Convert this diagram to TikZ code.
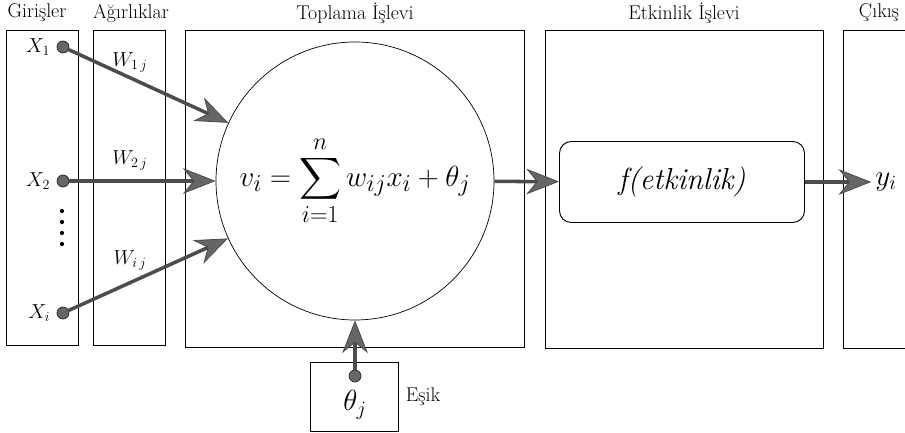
\documentclass[tikz,border=0pt]{standalone}
\usepackage{amsmath}
\usepackage{fontspec}
\usetikzlibrary{arrows.meta,positioning}

\begin{document}
\begin{tikzpicture}[x=0.03cm,y=-0.03cm,
  box/.style={draw,line width=0.8pt},
  head/.style={font=\fontsize{17}{19}\selectfont},
  lab/.style={font=\fontsize{18}{21}\selectfont},
  pin/.style={circle,draw=black!85,fill=black!60,line width=0.6pt,inner sep=0pt,minimum size=0.36cm},
  arr/.style={draw=black!70,line width=3pt,
    -{Stealth[length=28pt,width=22pt,inset=9pt,line width=0.7pt,fill=black!60]}}]
\useasboundingbox (0,0) rectangle (905,433);
% kutular
\draw[box] (6,30) rectangle (78,345);
\draw[box] (93,30) rectangle (165,345);
\draw[box] (185,30) rectangle (524,347);
\draw[box] (545,30) rectangle (823,348);
\draw[box] (843,30) rectangle (940,348);
\node[head] (hgir) at (37,13) {Girişler};
\node[head] (hagr) at (131,13) {Ağırlıklar};
\node[head] (htop) at (355,13) {Toplama İşlevi};
\node[head] (hetk) at (684,13) {Etkinlik İşlevi};
\node[head] (hcik) at (879,13) {Çıkış};
% girisler
\node[pin] (x1) at (63,47) {};
\node[pin] (x2) at (63,181) {};
\node[pin] (xi) at (63,313) {};
\node[lab,left=2pt of x1] {$X_1$};
\node[lab,left=2pt of x2] {$X_2$};
\node[lab,left=2pt of xi] {$X_i$};
\foreach \y in {211,222,233,244} \fill (62,\y) circle(1.8pt);
\node[lab] (w1) at (130,62) {$W_{1\,j}$};
\node[lab] (w2) at (130,160) {$W_{2\,j}$};
\node[lab] (wi) at (130,260) {$W_{i\,j}$};
% toplama
\node[draw,circle,line width=0.6pt,minimum size=8.34cm,inner sep=0pt,font=\Huge] (sum) at (355,181)
  {$\displaystyle v_i=\sum_{i=1}^{n} w_{ij}x_i+\theta_j$};
\draw[arr] (x1) -- (sum);
\draw[arr] (x2) -- (sum);
\draw[arr] (xi) -- (sum);
% esik
\node[draw,line width=0.8pt,minimum width=2.64cm,minimum height=2.07cm] (esik) at (354,397) {};
\node[pin] (tdot) at (355,376) {};
\node[font=\fontsize{27}{30}\selectfont] (theta) at (355,405) {$\theta_j$};
\node[head,right=0.1cm of esik] (lesik) {Eşik};
\draw[arr] (tdot) -- (sum);
% etkinlik
\node[draw,rounded corners=10pt,line width=0.8pt,minimum width=7.35cm,minimum height=2.43cm,
  font=\fontsize{26}{30}\selectfont\itshape] (act) at (682,182) {f(etkinlik)};
\draw[arr] (sum) -- (act);
\node[font=\fontsize{25}{28}\selectfont] (y) at (886,182) {$y_i$};
\draw[arr] (act) -- (y);
\end{tikzpicture}
\end{document}
